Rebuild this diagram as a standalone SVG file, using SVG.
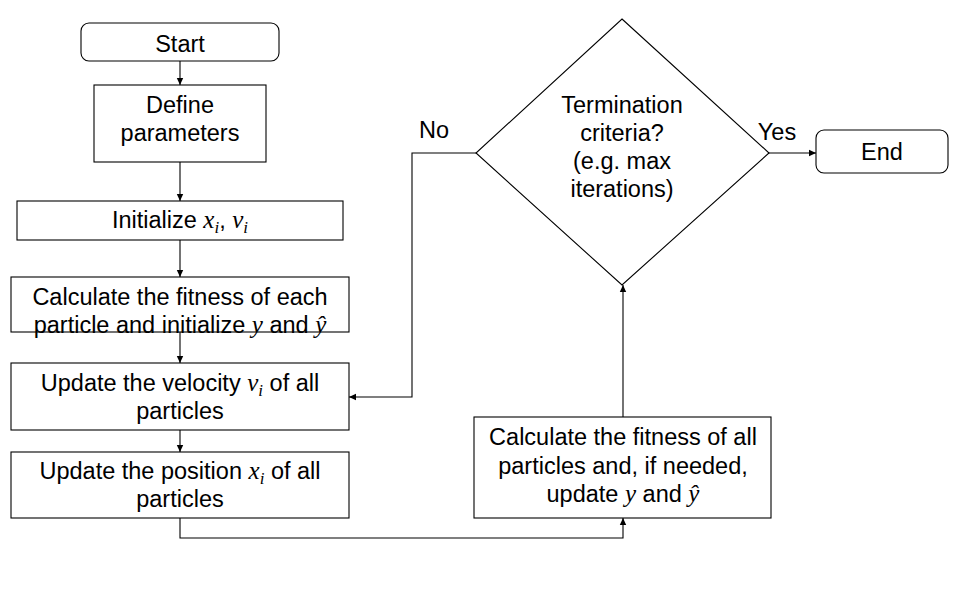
<svg xmlns="http://www.w3.org/2000/svg" width="953" height="592" viewBox="0 0 953 592">
<defs>
<marker id="arr" markerUnits="userSpaceOnUse" markerWidth="8" markerHeight="8" refX="7" refY="4" orient="auto">
<path d="M0,0.8 L7,4 L0,7.2 z" fill="#000"/>
</marker>
<style>
.box{fill:#fff;stroke:#000;stroke-width:1.1}
.t{font-family:"Liberation Sans",Arial,sans-serif;font-size:23.5px;fill:#000;text-anchor:middle}
.m{font-family:"Liberation Serif","Times New Roman",serif;font-style:italic;font-size:25px}
.s{font-family:"Liberation Serif","Times New Roman",serif;font-style:italic;font-size:17px}
.c{fill:none;stroke:#000;stroke-width:1.1;marker-end:url(#arr)}
</style>
</defs>
<rect width="953" height="592" fill="#fff"/>
<g id="connectors">
<path class="c" d="M180,61 V85"/>
<path class="c" d="M180,162 V201"/>
<path class="c" d="M180,240 V277"/>
<path class="c" d="M180,332 V363"/>
<path class="c" d="M180,430 V452"/>
<path class="c" d="M180,518 V538 H623 V518"/>
<path class="c" d="M623,417 V285"/>
<path class="c" d="M476,153 H412 V397 H349"/>
<path class="c" d="M769,153 H816"/>
<text class="t" x="434" y="138">No</text>
<text class="t" x="777" y="140">Yes</text>
</g>
<g id="start">
<rect class="box" x="81" y="23" width="198" height="38" rx="8"/>
<text class="t" x="180" y="52">Start</text>
</g>
<g id="define">
<rect class="box" x="94" y="85" width="172" height="77"/>
<text class="t" x="180" y="113">Define</text>
<text class="t" x="180" y="141">parameters</text>
</g>
<g id="init">
<rect class="box" x="17" y="201" width="326" height="39"/>
<text class="t" x="180" y="228">Initialize <tspan class="m">x</tspan><tspan class="s" dy="5">i</tspan><tspan dy="-5">, </tspan><tspan class="m">v</tspan><tspan class="s" dy="5">i</tspan></text>
</g>
<g id="fitness1">
<rect class="box" x="11" y="277" width="338" height="55"/>
<text class="t" x="180" y="305">Calculate the fitness of each</text>
<text class="t" x="180" y="333">particle and initialize <tspan class="m">y</tspan> and <tspan class="m">ŷ</tspan></text>
</g>
<g id="velocity">
<rect class="box" x="11" y="363" width="338" height="67"/>
<text class="t" x="180" y="391">Update the velocity <tspan class="m">v</tspan><tspan class="s" dy="5">i</tspan><tspan dy="-5"> of all</tspan></text>
<text class="t" x="180" y="419">particles</text>
</g>
<g id="position">
<rect class="box" x="11" y="452" width="338" height="66"/>
<text class="t" x="180" y="479">Update the position <tspan class="m">x</tspan><tspan class="s" dy="5">i</tspan><tspan dy="-5"> of all</tspan></text>
<text class="t" x="180" y="507">particles</text>
</g>
<g id="fitness2">
<rect class="box" x="474" y="417" width="297" height="101"/>
<text class="t" x="623" y="445">Calculate the fitness of all</text>
<text class="t" x="623" y="474">particles and, if needed,</text>
<text class="t" x="623" y="502">update <tspan class="m">y</tspan> and <tspan class="m">ŷ</tspan></text>
</g>
<g id="decision">
<polygon class="box" points="622,19 769,153 622,285 476,153"/>
<text class="t" x="622" y="113">Termination</text>
<text class="t" x="622" y="141">criteria?</text>
<text class="t" x="622" y="169">(e.g. max</text>
<text class="t" x="622" y="197">iterations)</text>
</g>
<g id="end">
<rect class="box" x="816" y="130" width="132" height="43" rx="8"/>
<text class="t" x="882" y="160">End</text>
</g>
</svg>
